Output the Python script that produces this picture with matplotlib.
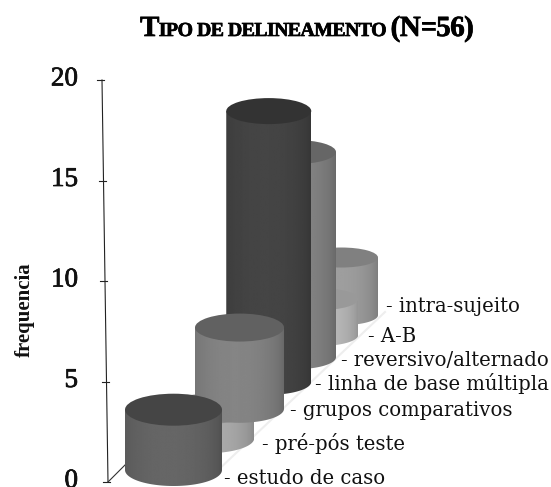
import numpy as np
import matplotlib
matplotlib.use("Agg")
import matplotlib.pyplot as plt
import matplotlib.patheffects as pe
from matplotlib.patches import Ellipse, PathPatch
from matplotlib.path import Path

categories = ["estudo de caso", "pré-pós teste", "grupos comparativos",
              "linha de base múltipla", "reversivo/alternado", "A-B", "intra-sujeito"]
frequencia = [3, 1.5, 4.3, 14.8, 11.6, 2.1, 3.5]
body_grays = [0.40, 0.68, 0.52, 0.27, 0.52, 0.74, 0.62]
top_grays = [0.27, 0.55, 0.38, 0.20, 0.40, 0.60, 0.50]
yticks = [0, 5, 10, 15, 20]

W, H = 551, 487
PX = 20.1          # pixels per unit on the front axis
Y0 = 482           # pixel row of the zero tick


def row(y):
    # pixel row -> axis value
    return (Y0 - y) / PX


fig = plt.figure(figsize=(W / 100, H / 100), dpi=100)
ax = fig.add_axes([0, 0, 1, 1])
ax.axis("off")

serif = "Liberation Serif"
label_font = "DejaVu Serif"
heavy = [pe.withStroke(linewidth=0.5, foreground="black")]

# slightly tilted value axis and the floor edge
ax.plot([108, 102], [0, 20], color="#222222", lw=0.8)
for v in yticks:
    xa = 108 - 6 * v / 20
    ax.plot([xa - 5, xa + 2], [v, v], color="#222222", lw=0.8)
    ax.text(78, v + 0.05, str(v), ha="right", va="center",
            family=serif, fontsize=19.5, color="#111111", path_effects=heavy)
ax.plot([108, 126], [0, row(464)], color="#333333", lw=0.8)
ax.plot([215, 385], [row(473), row(312)], color="#eeeeee", lw=1.5, zorder=0)


def cylinder(k, value, body, top):
    # depth k moves the cylinder back and shrinks it
    right = 222 + 33.5 * k - 1.25 * k ** 2
    r = 48.5 - 2 * k
    cx = right - r
    ry = row(Y0 - (16 - k))
    base = row(470 - 33 * k + 1.2 * k ** 2)
    h = value * (1 - 0.03 * k)
    # the short second cylinder stays behind the third one
    z = 2.9 if k == 1 else 3 - k * 0.01
    t = np.linspace(np.pi, 2 * np.pi, 60)
    xs = np.r_[cx + r * np.cos(t), cx + r, cx - r]
    ys = np.r_[base + ry * np.sin(t), base + h, base + h]
    clip = PathPatch(Path(np.c_[xs, ys]), fc="none", ec="none", transform=ax.transData)
    ax.add_patch(clip)
    u = np.linspace(-1, 1, 200)
    shade = body * (0.72 + 0.28 * np.sqrt(1 - (0.97 * (u + 0.1) / 1.1) ** 2))
    im = ax.imshow(shade[None, :], cmap="gray", vmin=0, vmax=1, aspect="auto",
                   extent=[cx - r, cx + r, base - ry, base + h], zorder=z,
                   interpolation="bilinear")
    im.set_clip_path(clip)
    ax.add_patch(Ellipse((cx, base + h), 2 * r, 2 * ry, fc=str(top), ec="none",
                         zorder=z + 0.001))


for k, (value, body, top) in enumerate(zip(frequencia, body_grays, top_grays)):
    cylinder(k, value, body, top)

ax.set_xlim(0, W)
ax.set_ylim(row(H), row(0))

# category labels sit next to each cylinder foot
label_x = [224, 262, 290, 315, 341, 368, 386]
label_y = [478, 443, 411, 384, 361, 337, 307]
for name, x, y in zip(categories, label_x, label_y):
    ax.text(x, row(y), "- " + name, ha="left", va="center", family=label_font,
            fontsize=14.1, color="#111111", zorder=10)

ax.text(25, row(310), "frequencia", rotation=90, ha="center", va="center",
        family=serif, fontweight="bold", fontsize=15, color="#111111")

# small-caps title placed letter by letter with tight tracking
title_parts = [("T", 21), ("IPO DE DELINEAMENTO", 14.3), (" (N=56)", 21)]
fig.canvas.draw()
x = 140
for s, size in title_parts:
    for ch in s:
        if ch == " ":
            x += 4.5
            continue
        txt = ax.text(x, row(36), ch, ha="left", va="baseline", family=serif,
                      fontweight="bold", fontsize=size, color="black", path_effects=heavy)
        x += txt.get_window_extent().width - 0.6

fig.savefig("out.png", dpi=100)
